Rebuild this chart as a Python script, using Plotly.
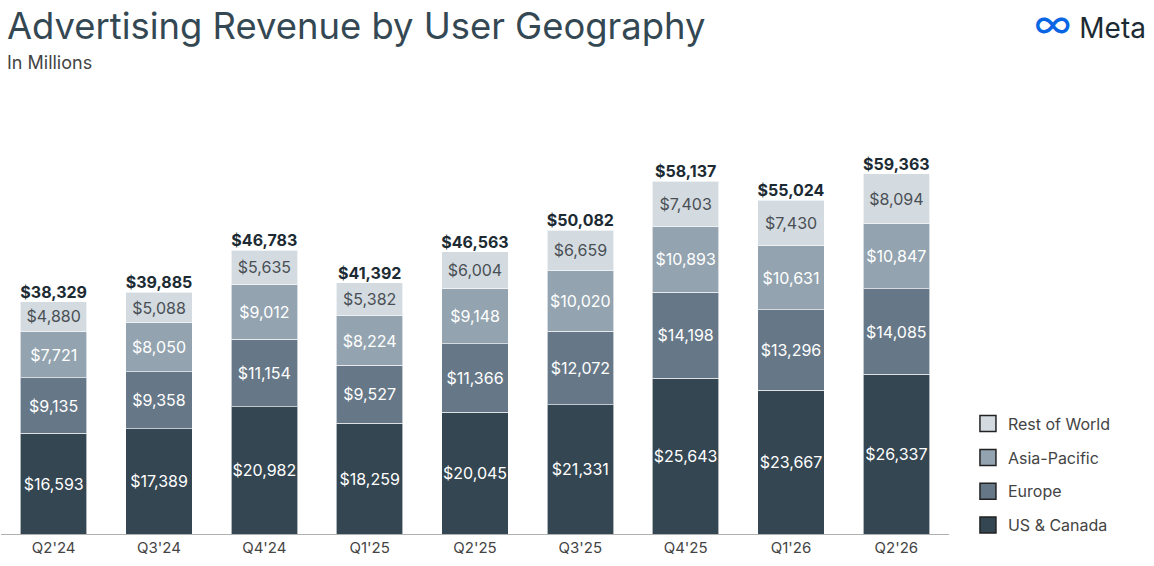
"""Meta advertising revenue by user geography, stacked bars."""

import plotly.graph_objects as go

quarters = ["Q2'24", "Q3'24", "Q4'24", "Q1'25", "Q2'25", "Q3'25", "Q4'25", "Q1'26", "Q2'26"]
us_canada = [16593, 17389, 20982, 18259, 20045, 21331, 25643, 23667, 26337]
europe = [9135, 9358, 11154, 9527, 11366, 12072, 14198, 13296, 14085]
asia_pacific = [7721, 8050, 9012, 8224, 9148, 10020, 10893, 10631, 10847]
rest_of_world = [4880, 5088, 5635, 5382, 6004, 6659, 7403, 7430, 8094]

series = [
    ("US & Canada", us_canada, "#344651", "white"),
    ("Europe", europe, "#667887", "white"),
    ("Asia-Pacific", asia_pacific, "#93a4b0", "white"),
    ("Rest of World", rest_of_world, "#d3dbe0", "#4a4f55"),
]

totals = [sum(v) for v in zip(us_canada, europe, asia_pacific, rest_of_world)]

FONT = "Inter"

fig = go.Figure()
for i, (name, vals, color, text_color) in enumerate(series):
    fig.add_trace(
        go.Bar(
            name=name,
            x=quarters,
            y=vals,
            marker=dict(color=color, line=dict(color="rgba(255,255,255,0.6)", width=1)),
            texttemplate="$%{y:,}",
            textposition="inside",
            insidetextanchor="middle",
            textangle=0,
            constraintext="none",
            textfont=dict(family=FONT, size=16, color=text_color),
            showlegend=False,
            hoverinfo="skip",
        )
    )
    # legend entry with a bordered square swatch (top of stack listed first)
    fig.add_trace(
        go.Scatter(
            name=name,
            x=[None],
            y=[None],
            mode="markers",
            marker=dict(symbol="square", size=16, color=color, line=dict(color="#222", width=1.5)),
            legendgroup=f"g{i}",
            legendrank=100 - i,
            showlegend=True,
        )
    )

# totals above each stack
fig.add_trace(
    go.Scatter(
        x=quarters,
        y=totals,
        mode="text",
        text=[f"<b>${t:,}</b>" for t in totals],
        textposition="top center",
        textfont=dict(family=FONT, size=16, color="#1c2b33"),
        showlegend=False,
        hoverinfo="skip",
    )
)

fig.update_layout(
    width=1154,
    height=566,
    barmode="stack",
    bargap=0.37,
    plot_bgcolor="white",
    paper_bgcolor="white",
    margin=dict(l=1, r=205, t=100, b=32),
    font=dict(family=FONT, color="#444"),
    showlegend=True,
    legend=dict(
        traceorder="grouped",
        x=1.02,
        xanchor="left",
        y=-0.02,
        yanchor="bottom",
        font=dict(family=FONT, size=16, color="#444"),
        tracegroupgap=10,
        itemwidth=30,
    ),
)
fig.update_xaxes(
    showline=True,
    linecolor="#b0b0b0",
    linewidth=1,
    ticks="",
    tickfont=dict(family=FONT, size=15, color="#444"),
)
fig.update_yaxes(visible=False, range=[0, 71560])

# title, subtitle, logo
fig.add_annotation(
    text="Advertising Revenue by User Geography",
    xref="paper", yref="paper", x=0.004, y=1.0, xanchor="left", yanchor="bottom",
    yshift=50, showarrow=False,
    font=dict(family=FONT, size=36.4, color="#344854"),
)
fig.add_annotation(
    text="In Millions",
    xref="paper", yref="paper", x=0.004, y=1.0, xanchor="left", yanchor="bottom",
    yshift=25, showarrow=False,
    font=dict(family=FONT, size=18, color="#444"),
)
fig.add_annotation(
    text="<span style='color:#0866e4;font-size:40px'>∞</span> Meta",
    xref="paper", yref="paper", x=1.0, y=1.0, xanchor="right", yanchor="bottom",
    xshift=199, yshift=50, showarrow=False,
    font=dict(family=FONT, size=28, color="#1c2b33"),
)

fig.write_html(
    "out.html",
    config={"displayModeBar": False},
    post_script="document.body.style.margin='0';",
)
